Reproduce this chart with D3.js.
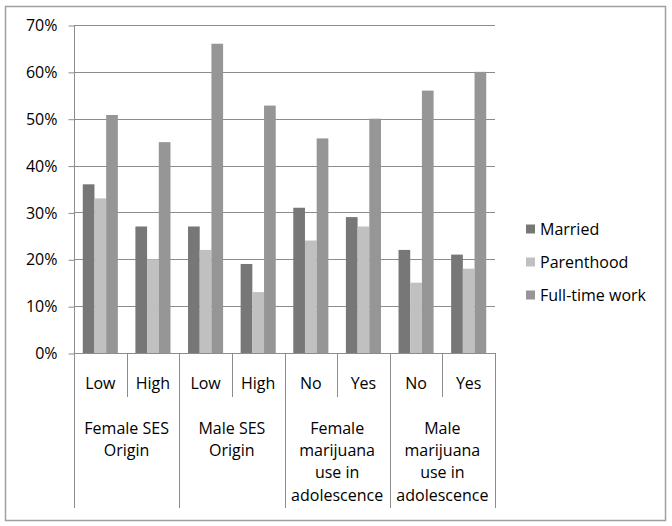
<!DOCTYPE html>
<html><head><meta charset="utf-8">
<script src="https://cdn.jsdelivr.net/npm/d3@7"></script>
<style>body{margin:0;background:#fff}svg{display:block}text{font-family:"Open Sans",sans-serif;fill:#000}</style>
</head><body><svg id="c" width="672" height="526"></svg>
<script>
const subLabels = ["Low","High","Low","High","No","Yes","No","Yes"];
const groupLabels = [["Female SES","Origin"],["Male SES","Origin"],["Female","marijuana","use in","adolescence"],["Male","marijuana","use in","adolescence"]];
const seriesNames = ["Married","Parenthood","Full-time work"];
const married = [36,27,27,19,31,29,22,21];
const parenthood = [33,20,22,13,24,27,15,18];
const fullTime = [50.8,45,66,52.8,45.8,50,56,60];
const yTicks = [0,10,20,30,40,50,60,70];
const colors = ["#777777","#c0c0c0","#969696"];

(function(){
const FS = "16px";
const svg = d3.select("#c");
svg.append("rect").attr("x",5.5).attr("y",6.5).attr("width",660).attr("height",514).attr("fill","#fff").attr("stroke","#a0a0a0").attr("stroke-width",1.5);

const pL=74, pR=495, pT=25, pB=353;
const y = d3.scaleLinear().domain([0,70]).range([pB,pT]);
const x = d3.scaleBand().domain(d3.range(subLabels.length)).range([pL,pR]).paddingInner(0).paddingOuter(0);
const bw = x.bandwidth()/4.5;
const xs = d3.scaleBand().domain(seriesNames).range([0.75*bw, 0.75*bw+3*bw]);

svg.append("g").selectAll("line").data(yTicks.slice(1)).join("line")
  .attr("x1",pL).attr("x2",pR).attr("y1",d=>Math.round(y(d))+0.5).attr("y2",d=>Math.round(y(d))+0.5)
  .attr("stroke","#8c8c8c").attr("stroke-width",1);

const yAxis = d3.axisLeft(y).tickValues(yTicks).tickFormat(d=>d+"%").tickSize(6).tickPadding(11);
const gy = svg.append("g").attr("transform",`translate(${pL+0.5},0.5)`).call(yAxis);
gy.select(".domain").remove();
gy.selectAll(".tick line").attr("stroke","#8c8c8c");
gy.selectAll(".tick text").style("font-size",FS).style("font-family","'Open Sans',sans-serif").attr("fill","#000");
svg.append("line").attr("x1",pL+0.5).attr("x2",pL+0.5).attr("y1",pT).attr("y2",508).attr("stroke","#8c8c8c");

const series = [married,parenthood,fullTime];
series.forEach((vals,si)=>{
  svg.append("g").selectAll("rect").data(vals).join("rect")
    .attr("x",(d,i)=>x(i)+xs(seriesNames[si]))
    .attr("width",xs.bandwidth())
    .attr("y",d=>y(d)).attr("height",d=>y(0)-y(d))
    .attr("fill",colors[si]);
});

svg.append("line").attr("x1",pL).attr("x2",pR).attr("y1",pB+0.5).attr("y2",pB+0.5).attr("stroke","#8c8c8c");

const gx = svg.append("g");
d3.range(1,subLabels.length+1).forEach(i=>{
  const xp = (i<subLabels.length? x(i): pR);
  const isGroup = i%2===0;
  gx.append("line").attr("x1",Math.round(xp)+0.5).attr("x2",Math.round(xp)+0.5)
    .attr("y1",pB).attr("y2",isGroup?508:397).attr("stroke","#8c8c8c");
});
gx.selectAll("text.sub").data(subLabels).join("text").attr("class","sub")
  .attr("x",(d,i)=>x(i)+x.bandwidth()/2).attr("y",383).attr("dy","0.35em")
  .attr("text-anchor","middle").style("font-size",FS).text(d=>d);
groupLabels.forEach((lines,gi)=>{
  const cx = (x(gi*2)+x(gi*2+1)+x.bandwidth())/2;
  const t = gx.append("text").attr("text-anchor","middle").style("font-size",FS);
  lines.forEach((l,li)=>t.append("tspan").attr("x",cx).attr("y",428+li*22.3).attr("dy","0.35em").text(l));
});

const lg = svg.append("g");
seriesNames.forEach((n,i)=>{
  const cy = 229+i*33;
  lg.append("rect").attr("x",526).attr("y",cy-4.5).attr("width",9).attr("height",9).attr("fill",colors[i]);
  lg.append("text").attr("x",540).attr("y",cy).attr("dy","0.35em").style("font-size",FS).text(n);
});
})();
</script></body></html>
